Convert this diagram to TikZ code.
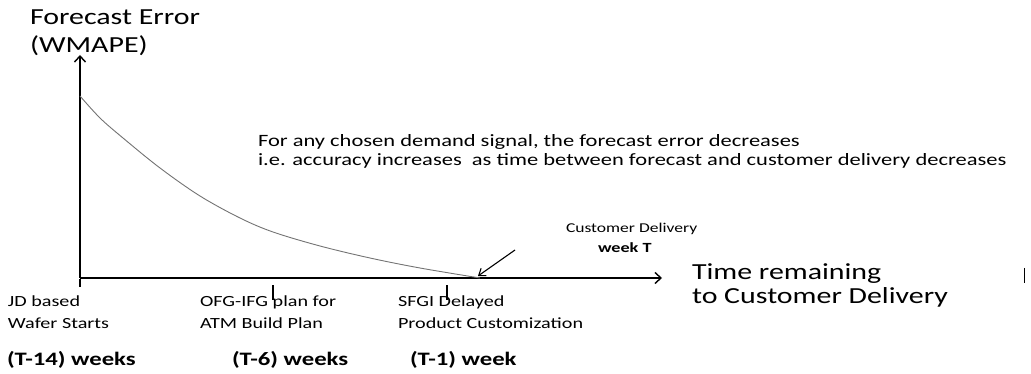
\documentclass[tikz,border=0pt]{standalone}
\usepackage{fontspec}
\setmainfont{Carlito}[FakeStretch=1.3]
\usetikzlibrary{arrows.meta}
\begin{document}
\begin{tikzpicture}[x=1pt,y=-1pt,
  axisline/.style={line width=1.8pt,-{Straight Barb[length=6pt,width=11pt,line width=1.4pt]}},
  tickmark/.style={line width=1.2pt},
  errcurve/.style={line width=0.9pt,draw=black!55},
  pointer/.style={line width=1.1pt,-{Straight Barb[length=6pt,width=9pt]}},
  txt/.style={inner sep=0pt,outer sep=0pt,align=left,anchor=north west},
  title/.style={txt,font=\fontsize{23}{28}\selectfont},
  note/.style={txt,font=\fontsize{17.3}{19.5}\selectfont},
  stage/.style={txt,font=\fontsize{15.5}{22}\selectfont},
  lead/.style={txt,font=\bfseries\fontsize{19}{20}\selectfont},
  timelbl/.style={txt,font=\fontsize{23}{24}\selectfont}
]
\useasboundingbox (0,0) rectangle (1031,374);

% axes
\coordinate (origin) at (80,278);
\coordinate (ytop) at (80,55);
\coordinate (xend) at (662,278);
\draw[axisline] (origin) -- (ytop);
\draw[axisline] (origin) -- (xend);

% week ticks
\coordinate (t14) at (80,278);
\coordinate (t6) at (273,278);
\coordinate (t1) at (447,278);
\draw[tickmark] ([yshift=-1pt]t14) -- ++(0,8);
\draw[tickmark] ([yshift=-7pt]t6) -- ++(0,15);
\draw[tickmark] ([yshift=-7pt]t1) -- ++(0,15);

% forecast error curve
\draw[errcurve] plot[smooth,tension=0.55] coordinates {
  (80,96) (100,118) (123,138) (160,168) (200,196) (240,218) (273,232)
  (320,246) (370,258) (420,268) (480,278)};
\coordinate (delivery) at (478,276);

% axis titles
\node[title] (ytitle) at (30,10) {Forecast Error\\(WMAPE)};
\node[timelbl] (xtitle) at (692,264) {Time remaining\\to Customer Delivery};

% explanatory note
\node[note] (note) at (258,134) {For any chosen demand signal, the forecast error decreases\\i.e. accuracy increases\ \ as time between forecast and customer delivery decreases};

% customer delivery callout
\node[txt,font=\fontsize{13.5}{16}\selectfont] (cust) at (566,223) {Customer Delivery};
\node[txt,font=\bfseries\fontsize{14}{16}\selectfont] (weekT) at (598,243) {week T};
\coordinate (ptail) at (515,250);
\draw[pointer] (ptail) -- (delivery);

% stage labels
\node[stage] (s14) at (8,296) {JD based\\Wafer Starts};
\node[stage] (s6) at (200,296) {OFG-IFG plan for\\ATM Build Plan};
\node[stage] (s1) at (398,296) {SFGI Delayed\\Product Customization};

% lead times
\node[lead] (w14) at (7,351) {(T-14) weeks};
\node[lead] (w6) at (232,351) {(T-6) weeks};
\node[lead] (w1) at (410,351) {(T-1) week};

% small mark at the right edge
\draw[line width=1pt] (1024,268) -- (1024,283);
\end{tikzpicture}
\end{document}
